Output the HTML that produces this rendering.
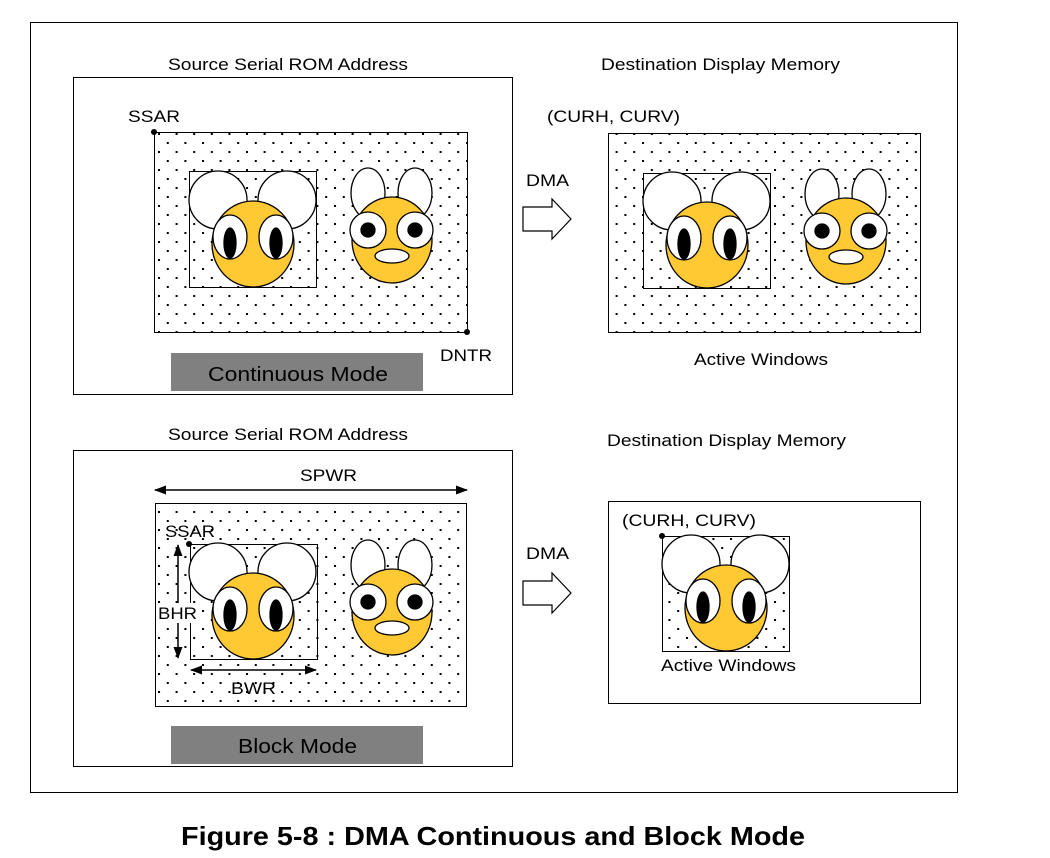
<!DOCTYPE html>
<html><head><meta charset="utf-8"><style>
body{margin:0;background:#fff}
svg{display:block}
text{font-family:"Liberation Sans",sans-serif;fill:#000}
</style></head><body>
<svg width="1050" height="858" viewBox="0 0 1050 858">
<defs>
<pattern id="dots" x="158" y="295" width="17.6" height="18" patternUnits="userSpaceOnUse">
<rect x="0" y="0" width="2" height="2" fill="#000"/>
<rect x="8.8" y="9" width="2" height="2" fill="#000"/>
</pattern>
<g id="mouse" stroke="#000" stroke-width="1.3">
<circle cx="29" cy="29" r="29" fill="#fff"/>
<circle cx="98" cy="29" r="29" fill="#fff"/>
<ellipse cx="64" cy="73" rx="41" ry="43" fill="#FFC933"/>
<ellipse cx="41" cy="66" rx="17" ry="22" fill="#fff"/>
<ellipse cx="87" cy="66" rx="17" ry="22" fill="#fff"/>
<ellipse cx="41" cy="72" rx="6" ry="15" fill="#000"/>
<ellipse cx="87" cy="72" rx="6" ry="15" fill="#000"/>
</g>
<g id="bunny" stroke="#000" stroke-width="1.3">
<ellipse cx="179" cy="22" rx="17" ry="25" fill="#fff"/>
<ellipse cx="226" cy="22" rx="17" ry="25" fill="#fff"/>
<ellipse cx="203" cy="69" rx="40" ry="43" fill="#FFC933"/>
<circle cx="179" cy="59" r="18" fill="#fff"/>
<circle cx="226" cy="59" r="18" fill="#fff"/>
<circle cx="179" cy="59" r="7" fill="#000"/>
<circle cx="226" cy="59" r="7" fill="#000"/>
<ellipse cx="203" cy="85" rx="17" ry="7" fill="#fff"/>
</g>
<g id="arrow"><polygon points="523,207 552,207 552,199 571,219 552,239 552,231 523,231" fill="#fff" stroke="#000" stroke-width="1.2"/></g>
<marker id="ah" markerWidth="12" markerHeight="10" refX="11" refY="5" orient="auto-start-reverse" markerUnits="userSpaceOnUse"><path d="M0,0.5 L12,5 L0,9.5 z" fill="#000"/></marker>
</defs>

<rect x="30.5" y="22.5" width="927" height="770" fill="none" stroke="#000" stroke-width="1"/>

<!-- Top left -->
<text x="168" y="70" font-size="17" textLength="240" lengthAdjust="spacingAndGlyphs">Source Serial ROM Address</text>
<rect x="73.5" y="77.5" width="439" height="317" fill="none" stroke="#000"/>
<text x="128" y="122" font-size="17" textLength="52" lengthAdjust="spacingAndGlyphs">SSAR</text>
<rect x="154.5" y="132.5" width="313" height="200" fill="url(#dots)" stroke="#000"/>
<circle cx="154" cy="132" r="3"/>
<circle cx="467" cy="332" r="3"/>
<text x="440" y="361" font-size="17" textLength="52" lengthAdjust="spacingAndGlyphs">DNTR</text>
<rect x="189.5" y="171.5" width="127" height="116" fill="none" stroke="#000"/>
<use href="#mouse" transform="translate(189,171)"/>
<use href="#bunny" transform="translate(189,171)"/>
<rect x="171" y="353" width="252" height="38" fill="#808080"/>
<text x="208" y="381" font-size="20" textLength="180" lengthAdjust="spacingAndGlyphs">Continuous Mode</text>

<use href="#arrow"/>
<text x="526" y="186" font-size="17" textLength="43" lengthAdjust="spacingAndGlyphs">DMA</text>

<!-- Top right -->
<text x="601" y="70" font-size="17" textLength="239" lengthAdjust="spacingAndGlyphs">Destination Display Memory</text>
<text x="547" y="122" font-size="17" textLength="133" lengthAdjust="spacingAndGlyphs">(CURH, CURV)</text>
<rect x="608.5" y="133.5" width="312" height="199" fill="url(#dots)" stroke="#000"/>
<rect x="643.5" y="173.5" width="127" height="115" fill="none" stroke="#000"/>
<use href="#mouse" transform="translate(643,172)"/>
<use href="#bunny" transform="translate(643,172)"/>
<text x="694" y="365" font-size="17" textLength="134" lengthAdjust="spacingAndGlyphs">Active Windows</text>

<!-- Bottom left -->
<text x="168" y="440" font-size="17" textLength="240" lengthAdjust="spacingAndGlyphs">Source Serial ROM Address</text>
<rect x="73.5" y="450.5" width="439" height="316" fill="none" stroke="#000"/>
<line x1="155" y1="490" x2="467" y2="490" stroke="#000" stroke-width="1.5" marker-start="url(#ah)" marker-end="url(#ah)"/>
<text x="300" y="481" font-size="17" textLength="57" lengthAdjust="spacingAndGlyphs">SPWR</text>
<rect x="155.5" y="503.5" width="311" height="203" fill="url(#dots)" stroke="#000"/>
<rect x="190.5" y="544.5" width="127" height="115" fill="none" stroke="#000"/>
<use href="#mouse" transform="translate(189,543)"/>
<use href="#bunny" transform="translate(189,543)"/>
<text x="165" y="537" font-size="17" textLength="50" lengthAdjust="spacingAndGlyphs">SSAR</text>
<circle cx="189" cy="544" r="3"/>
<line x1="178" y1="545" x2="178" y2="658" stroke="#000" stroke-width="1.5" marker-start="url(#ah)" marker-end="url(#ah)"/>
<rect x="157" y="603" width="41" height="20" fill="#fff"/>
<text x="158" y="619" font-size="17" textLength="39" lengthAdjust="spacingAndGlyphs">BHR</text>
<line x1="191" y1="670" x2="316" y2="670" stroke="#000" stroke-width="1.5" marker-start="url(#ah)" marker-end="url(#ah)"/>
<text x="231" y="694" font-size="17" textLength="45" lengthAdjust="spacingAndGlyphs">BWR</text>
<rect x="171" y="726" width="252" height="38" fill="#808080"/>
<text x="238" y="753" font-size="20" textLength="119" lengthAdjust="spacingAndGlyphs">Block Mode</text>

<use href="#arrow" transform="translate(0,374)"/>
<text x="526" y="559" font-size="17" textLength="43" lengthAdjust="spacingAndGlyphs">DMA</text>

<!-- Bottom right -->
<text x="607" y="446" font-size="17" textLength="239" lengthAdjust="spacingAndGlyphs">Destination Display Memory</text>
<rect x="608.5" y="501.5" width="312" height="202" fill="none" stroke="#000"/>
<text x="622" y="526" font-size="17" textLength="134" lengthAdjust="spacingAndGlyphs">(CURH, CURV)</text>
<rect x="662.5" y="536.5" width="127" height="115" fill="url(#dots)" stroke="#000"/>
<use href="#mouse" transform="translate(662,535)"/>
<circle cx="662" cy="536" r="3"/>
<text x="661" y="671" font-size="17" textLength="135" lengthAdjust="spacingAndGlyphs">Active Windows</text>

<text x="181" y="845" font-size="26" font-weight="bold" textLength="624" lengthAdjust="spacingAndGlyphs">Figure 5-8 : DMA Continuous and Block Mode</text>
</svg>
</body></html>
